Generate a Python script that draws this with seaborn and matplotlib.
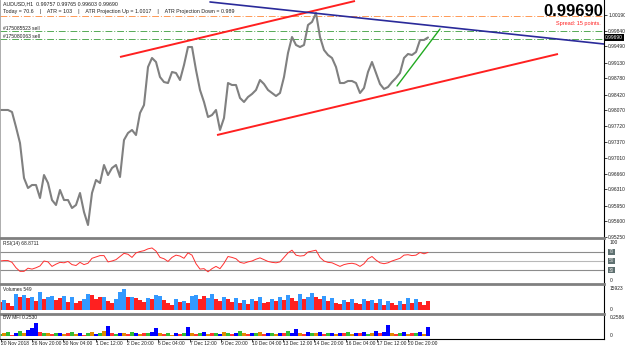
import matplotlib
matplotlib.use("Agg")
import numpy as np
import pandas as pd
import matplotlib.pyplot as plt
import seaborn as sns
from matplotlib import font_manager

# ---------------- data ----------------
bars = list(range(0, 432, 4))  # H1 bar index (every 4th bar)

close = [
    0.98077, 0.98077, 0.98077, 0.98032, 0.97698, 0.97342, 0.96564, 0.96341, 0.96408, 0.96408, 0.96119, 0.96630,
    0.96452, 0.96074, 0.95963, 0.96297, 0.96074, 0.96074, 0.95896, 0.95963, 0.96230, 0.95807, 0.95518, 0.96230,
    0.96519, 0.96452, 0.96853, 0.96630, 0.96786, 0.96853, 0.96586, 0.97409, 0.97565, 0.97632, 0.97520, 0.98010,
    0.98188, 0.99033, 0.99234, 0.99145, 0.98811, 0.98699, 0.98677, 0.98922, 0.98900, 0.98744, 0.99078, 0.99478,
    0.99478, 0.98967, 0.98522, 0.98255, 0.97921, 0.97965, 0.98077, 0.97632, 0.97899, 0.98677, 0.98633, 0.98633,
    0.98344, 0.98255, 0.98366, 0.98433, 0.98522, 0.98744, 0.98655, 0.98522, 0.98455, 0.98388, 0.98455, 0.98811,
    0.99345, 0.99701, 0.99523, 0.99478, 0.99523, 0.99968, 1.00035, 1.00235, 0.99701, 0.99412, 0.99300, 0.99234,
    0.99033, 0.98677, 0.98677, 0.98722, 0.98722, 0.98677, 0.98455, 0.98566, 0.98922, 0.99145, 0.98900, 0.98655,
    0.98544, 0.98588, 0.98699, 0.98789, 0.98900, 0.99234, 0.99323, 0.99300, 0.99367, 0.99634, 0.99634, 0.99690,
]

rsi = [
    50, 51, 51, 47, 35, 27, 27, 34, 32, 35, 39, 50,
    48, 38, 43, 47, 46, 49, 42, 40, 47, 42, 45, 56,
    59, 62, 62, 48, 50, 53, 60, 67, 65, 58, 68, 71,
    73, 77, 79, 72, 58, 55, 49, 58, 63, 61, 56, 68,
    63, 44, 32, 33, 26, 33, 38, 33, 45, 60, 58, 55,
    47, 45, 48, 50, 54, 57, 53, 49, 47, 46, 48, 58,
    68, 74, 63, 61, 62, 70, 72, 74, 58, 50, 47, 46,
    42, 38, 42, 44, 45, 43, 38, 44, 55, 60, 52, 46,
    44, 46, 50, 53, 56, 63, 64, 62, 63, 69, 66, 69,
]

volumes = [
    6000, 7500, 5500, 3000, 12500, 10000, 11000, 9000, 9500, 7000, 13500, 8000,
    9500, 10500, 7500, 9000, 10500, 6000, 9500, 5500, 7000, 8500, 12000, 11000,
    8500, 9500, 10000, 6500, 5000, 8000, 14000, 15923, 9500, 10000, 9000, 7500,
    6000, 9000, 8000, 11000, 10500, 7500, 5000, 4000, 8000, 6000, 7000, 5500,
    10500, 11500, 8000, 10500, 9000, 12000, 8500, 7000, 10000, 8500, 6000, 9000,
    5000, 7500, 4500, 8000, 6500, 9500, 5500, 6000, 8500, 7000, 10000, 7500,
    11000, 9000, 6500, 12500, 8000, 10000, 13000, 9500, 8000, 10500, 7000, 9000,
    5500, 4500, 7500, 6000, 8500, 5500, 4500, 8000, 6500, 7500, 5000, 8500,
    4000, 7000, 5500, 3500, 6500, 4500, 9000, 5000, 8500, 6000, 4000, 6500,
]
vol_dir = (
    "rbrrbrbrbrbr"
    "bbrrbrbrrbbr"
    "rrbrrbbbrbrr"
    "rbrbbrrrbrbr"
    "bbrrbbrrbrrb"
    "rbrbrbrrbrbr"
    "brrbrbbrrbrb"
    "rrbrbrrbrbrb"
    "rbrrbrbrbrrr"
)

mfi = [
    0.03, 0.05, 0.06, 0.02, 0.04, 0.07, 0.05, 0.08, 0.12, 0.18, 0.06, 0.04,
    0.05, 0.03, 0.04, 0.05, 0.03, 0.04, 0.06, 0.03, 0.04, 0.02, 0.05, 0.06,
    0.03, 0.04, 0.07, 0.14, 0.04, 0.03, 0.05, 0.04, 0.03, 0.06, 0.04, 0.03,
    0.05, 0.04, 0.06, 0.12, 0.04, 0.03, 0.05, 0.02, 0.04, 0.03, 0.05, 0.13,
    0.05, 0.03, 0.04, 0.06, 0.03, 0.04, 0.05, 0.03, 0.06, 0.04, 0.03, 0.05,
    0.07, 0.04, 0.03, 0.05, 0.04, 0.06, 0.03, 0.05, 0.04, 0.03, 0.05, 0.04,
    0.07, 0.05, 0.10, 0.04, 0.03, 0.06, 0.05, 0.04, 0.06, 0.03, 0.05, 0.04,
    0.03, 0.05, 0.04, 0.06, 0.03, 0.05, 0.04, 0.06, 0.03, 0.05, 0.07, 0.04,
    0.06, 0.16, 0.05, 0.03, 0.04, 0.06, 0.03, 0.05, 0.04, 0.06, 0.03, 0.13,
]
mfi_kind = (
    "gogrbgobbbrg"
    "orgborgobrgo"
    "bgobrgborgbo"
    "rgbborgobrgb"
    "orgborgbogrb"
    "gorbgorbgobr"
    "gbborbgobrgb"
    "obrgobrbgobr"
    "bborgborgbob"
)

price_ticks = [0.95250, 0.95600, 0.95950, 0.96310, 0.96660, 0.97010, 0.97370, 0.97720,
               0.98070, 0.98420, 0.98780, 0.99130, 0.99490, 0.99840, 1.00190]

date_pos = [1, 32, 63, 96, 127, 158, 190, 221, 252, 283, 314, 346, 377, 408]
date_labels = ["20 Nov 2018", "26 Nov 20:00", "30 Nov 04:00", "1 Dec 12:00", "2 Dec 20:00",
               "6 Dec 04:00", "7 Dec 12:00", "9 Dec 20:00", "10 Dec 04:00", "13 Dec 12:00",
               "14 Dec 20:00", "16 Dec 04:00", "17 Dec 12:00", "20 Dec 20:00"]

# trend lines (bar, price)
upper_red_x, upper_red_y = [120, 355], [0.99256, 1.00502]
lower_red_x, lower_red_y = [217, 558], [0.97520, 0.99323]
blue_x, blue_y = [210, 604], [1.00480, 0.99545]
green_x, green_y = [397, 440], [0.98611, 0.99879]

atr_up = 1.0017
order_levels = [0.99840, 0.99650]
order_names = ["#175085523 sell", "#175080063 sell"]
last_price = 0.99690

# ---------------- style ----------------
sns.set_style("white")
avail = {f.name for f in font_manager.fontManager.ttflist}
NARROW = "Liberation Sans Narrow" if "Liberation Sans Narrow" in avail else "Liberation Sans"
plt.rcParams["font.family"] = [NARROW, "DejaVu Sans"]

W, H = 625, 348
fig = plt.figure(figsize=(W / 100, H / 100), dpi=100)
fig.patch.set_facecolor("white")


def pax(x0, y0, x1, y1):
    return fig.add_axes([x0 / W, 1 - y1 / H, (x1 - x0) / W, (y1 - y0) / H])


def ftext(x, y, s, **kw):
    return fig.text(x / W, 1 - y / H, s, **kw)


ax = pax(0, 0, 604, 238)
ax_rsi = pax(0, 238, 604, 284)
ax_vol = pax(0, 284, 604, 314)
ax_mfi = pax(0, 314, 604, 338.5)

for a in (ax, ax_rsi, ax_vol, ax_mfi):
    a.set_xlim(0, 604)
    a.set_facecolor("white")
    a.spines["left"].set_color("#a0a0a0")
    a.spines["left"].set_linewidth(0.6)
    a.spines["right"].set_color("black")
    a.spines["right"].set_linewidth(0.8)
    a.spines["bottom"].set_visible(False)
    a.spines["top"].set_visible(False)
    a.set_xticks([])
    a.set_yticks([])
for a in (ax_rsi, ax_vol, ax_mfi):
    a.spines["top"].set_visible(True)
    a.spines["top"].set_color("#808080")
    a.spines["top"].set_linewidth(2.0)
ax_mfi.spines["bottom"].set_visible(True)
ax_mfi.spines["bottom"].set_color("black")
ax_mfi.spines["bottom"].set_linewidth(0.8)

LBL = 3.5  # small axis font size

# ---------------- main price panel ----------------
df = pd.DataFrame({"bar": bars, "close": close})
ax.set_ylim(0.95229, 1.00524)
ax.axhline(atr_up, color="#ff9955", lw=0.7, ls=(0, (7, 2, 1, 2)))
for lv in order_levels:
    ax.axhline(lv, color="#55aa55", lw=0.7, ls=(0, (7, 2, 1, 2)))
sns.lineplot(data=df, x="bar", y="close", ax=ax, color="#808080", linewidth=1.5)
ax.plot(upper_red_x, upper_red_y, color="#ff2020", lw=1.4, solid_capstyle="butt")
ax.plot(lower_red_x, lower_red_y, color="#ff2020", lw=1.4, solid_capstyle="butt")
ax.plot(blue_x, blue_y, color="#2a2a9a", lw=1.2, clip_on=False)
ax.plot(green_x, green_y, color="#22aa22", lw=1.0)
ax.set_xlabel("")
ax.set_ylabel("")
ax.set_xlim(0, 604)

ax.yaxis.tick_right()
ax.set_yticks(price_ticks)
ax.set_yticklabels([f"{v:.5f}" for v in price_ticks])
ax.tick_params(axis="y", which="both", right=True, length=2, width=0.6, pad=1,
               labelsize=LBL, labelcolor="#202020", direction="out")
ax.text(1.002, last_price, f"{last_price:.5f}", transform=ax.get_yaxis_transform(),
        fontsize=LBL, color="white", va="center", ha="left",
        bbox=dict(boxstyle="square,pad=0.15", fc="black", ec="none"))

for lv, name in zip(order_levels, order_names):
    ax.text(0.005, lv, name, transform=ax.get_yaxis_transform(), fontsize=3.6,
            va="bottom", ha="left", color="#202020")

ftext(3, 4, "AUDUSD,H1  0.99757 0.99765 0.99603 0.99690", fontsize=3.8, va="center", color="#202020")
ftext(3, 11, "Today = 70.6    |    ATR = 103    |    ATR Projection Up = 1.0017    |    ATR Projection Down = 0.989",
      fontsize=3.8, va="center", color="#202020")
ftext(603, 11.5, "0.99690", fontsize=12, weight="bold", ha="right", va="center", color="black")
ftext(556, 24, "Spread: 15 points.", fontsize=4.0, ha="left", va="center", color="#ff2020")

# ---------------- RSI ----------------
ax_rsi.set_ylim(-1.1, 101.1)
ax_rsi.axhline(70, color="#8c8c8c", lw=0.8)
ax_rsi.axhline(50, color="#b8b8b8", lw=0.8)
ax_rsi.axhline(30, color="#8c8c8c", lw=0.8)
sns.lineplot(x=bars, y=rsi, ax=ax_rsi, color="#ff3030", linewidth=0.7)
ax_rsi.set_xlim(0, 604)
ax_rsi.set_xticks([])
ax_rsi.set_yticks([])
ax_rsi.text(0.005, 0.87, "RSI(14) 68.8711", transform=ax_rsi.transAxes, fontsize=3.5, va="center", color="#202020")
yt = ax_rsi.get_yaxis_transform()
ax_rsi.text(1.01, 92, "100", transform=yt, fontsize=LBL, va="center", ha="left", color="#202020")
ax_rsi.text(1.01, 5.6, "0", transform=yt, fontsize=LBL, va="center", ha="left", color="#202020")
for lv in (70, 50, 30):
    ax_rsi.text(1.008, lv, str(lv), transform=yt, fontsize=3.4, va="center", ha="left", color="#e0e0e0",
                bbox=dict(boxstyle="square,pad=0.2", fc="#5e7070", ec="none"))

# ---------------- Volumes ----------------
vcol = {"r": "#ff2020", "b": "#3399ff"}
ax_vol.set_ylim(-3033, 19714)
ax_vol.bar(bars, volumes, width=3.4, color=[vcol[c] for c in vol_dir], linewidth=0)
ax_vol.text(0.005, 0.83, "Volumes 549", transform=ax_vol.transAxes, fontsize=3.5, va="center", color="#202020")
yt = ax_vol.get_yaxis_transform()
ax_vol.text(1.01, 15923, "15923", transform=yt, fontsize=LBL, va="center", ha="left", color="#202020")
ax_vol.text(1.01, 0, "0", transform=yt, fontsize=LBL, va="center", ha="left", color="#202020")

# ---------------- BW MFI ----------------
mcol = {"g": "#33bb33", "b": "#0000ff", "o": "#e08a00", "r": "#ff3333"}
ax_mfi.set_ylim(-0.0362, 0.3161)
ax_mfi.bar(bars, mfi, width=3.4, color=[mcol[c] for c in mfi_kind], linewidth=0)
ax_mfi.text(0.005, 0.84, "BW MFI 0.2530", transform=ax_mfi.transAxes, fontsize=3.5, va="center", color="#202020")
yt = ax_mfi.get_yaxis_transform()
ax_mfi.text(1.01, 0.2586, "0.2586", transform=yt, fontsize=LBL, va="center", ha="left", color="#202020")
ax_mfi.text(1.01, 0, "0", transform=yt, fontsize=LBL, va="center", ha="left", color="#202020")

ax_mfi.set_xticks(date_pos)
ax_mfi.set_xticklabels(date_labels)
ax_mfi.tick_params(axis="x", bottom=True, length=2, width=0.6, pad=0, labelsize=3.5, labelcolor="#202020",
                   direction="out")
for lab in ax_mfi.get_xticklabels():
    lab.set_ha("left")

fig.savefig("out.png", dpi=100, facecolor="white")
